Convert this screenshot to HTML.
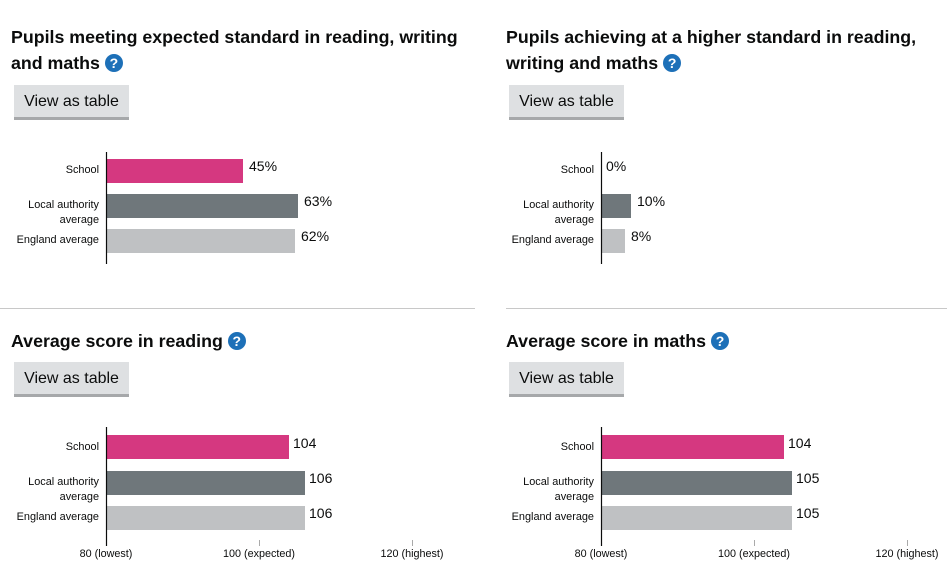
<!DOCTYPE html>
<html><head><meta charset="utf-8"><style>
body{margin:0;width:947px;height:570px;background:#fff;position:relative;overflow:hidden;font-family:"Liberation Sans",Arial,sans-serif;}
.t{position:absolute;font-weight:bold;font-size:17.8px;line-height:26px;color:#0b0c0c;}
.q{display:inline-block;width:18px;height:18px;border-radius:50%;background:#1d70b8;color:#fff;font-size:14px;line-height:18px;text-align:center;vertical-align:1px;margin-left:5px;}
.b{position:absolute;width:115px;height:32px;background:#dee0e2;border-bottom:3px solid #a6a8aa;font-size:16px;line-height:34px;text-align:center;color:#0b0c0c;}
.hr{position:absolute;height:1px;background:#c8c8c8;top:308px;}
svg{position:absolute;left:0;top:0}
</style></head><body>
<div class="t" style="left:11px;top:24px">Pupils meeting expected standard in reading, writing<br>and maths<span class="q">?</span></div>
<div class="t" style="left:506px;top:24px">Pupils achieving at a higher standard in reading,<br>writing and maths<span class="q">?</span></div>
<div class="b" style="left:14px;top:85px">View as table</div>
<div class="b" style="left:509px;top:85px">View as table</div>
<div class="hr" style="left:0;width:475px"></div>
<div class="hr" style="left:506px;width:441px"></div>
<div class="t" style="left:11px;top:328px">Average score in reading<span class="q">?</span></div>
<div class="t" style="left:506px;top:328px">Average score in maths<span class="q">?</span></div>
<div class="b" style="left:14px;top:362px">View as table</div>
<div class="b" style="left:509px;top:362px">View as table</div>
<svg width="947" height="570" font-family="Liberation Sans,Arial,sans-serif">
<g font-size="10.9" fill="#0b0c0c" text-anchor="end">
<text x="99" y="173">School</text><text x="99" y="208">Local authority</text><text x="99" y="223">average</text><text x="99" y="243">England average</text>
<text x="594" y="173">School</text><text x="594" y="208">Local authority</text><text x="594" y="223">average</text><text x="594" y="243">England average</text>
<text x="99" y="450">School</text><text x="99" y="485">Local authority</text><text x="99" y="500">average</text><text x="99" y="520">England average</text>
<text x="594" y="450">School</text><text x="594" y="485">Local authority</text><text x="594" y="500">average</text><text x="594" y="520">England average</text>
</g>
<rect x="106" y="159" width="137" height="24" fill="#d53880"/>
<rect x="106" y="194" width="192" height="24" fill="#6f777b"/>
<rect x="106" y="229" width="189" height="24" fill="#bfc1c3"/>
<rect x="601" y="194" width="30" height="24" fill="#6f777b"/>
<rect x="601" y="229" width="24" height="24" fill="#bfc1c3"/>
<rect x="106" y="435" width="183" height="24" fill="#d53880"/>
<rect x="106" y="471" width="199" height="24" fill="#6f777b"/>
<rect x="106" y="506" width="199" height="24" fill="#bfc1c3"/>
<rect x="601" y="435" width="183" height="24" fill="#d53880"/>
<rect x="601" y="471" width="191" height="24" fill="#6f777b"/>
<rect x="601" y="506" width="191" height="24" fill="#bfc1c3"/>
<g stroke="#0b0c0c" stroke-width="1.2">
<line x1="106.5" y1="152" x2="106.5" y2="264"/><line x1="601.5" y1="152" x2="601.5" y2="264"/>
<line x1="106.5" y1="427" x2="106.5" y2="546"/><line x1="601.5" y1="427" x2="601.5" y2="546"/>
</g>
<g stroke="#aaa" stroke-width="1">
<line x1="259.5" y1="540" x2="259.5" y2="546"/><line x1="412.5" y1="540" x2="412.5" y2="546"/>
<line x1="754.5" y1="540" x2="754.5" y2="546"/><line x1="907.5" y1="540" x2="907.5" y2="546"/>
</g>
<g font-size="14" fill="#0b0c0c">
<text x="249" y="171">45%</text><text x="304" y="206">63%</text><text x="301" y="241">62%</text>
<text x="606" y="171">0%</text><text x="637" y="206">10%</text><text x="631" y="241">8%</text>
<text x="293" y="448">104</text><text x="309" y="483">106</text><text x="309" y="518">106</text>
<text x="788" y="448">104</text><text x="796" y="483">105</text><text x="796" y="518">105</text>
</g>
<g font-size="10.8" fill="#0b0c0c" text-anchor="middle">
<text x="106" y="557">80 (lowest)</text><text x="259" y="557">100 (expected)</text><text x="412" y="557">120 (highest)</text>
<text x="601" y="557">80 (lowest)</text><text x="754" y="557">100 (expected)</text><text x="907" y="557">120 (highest)</text>
</g>
</svg>
</body></html>
